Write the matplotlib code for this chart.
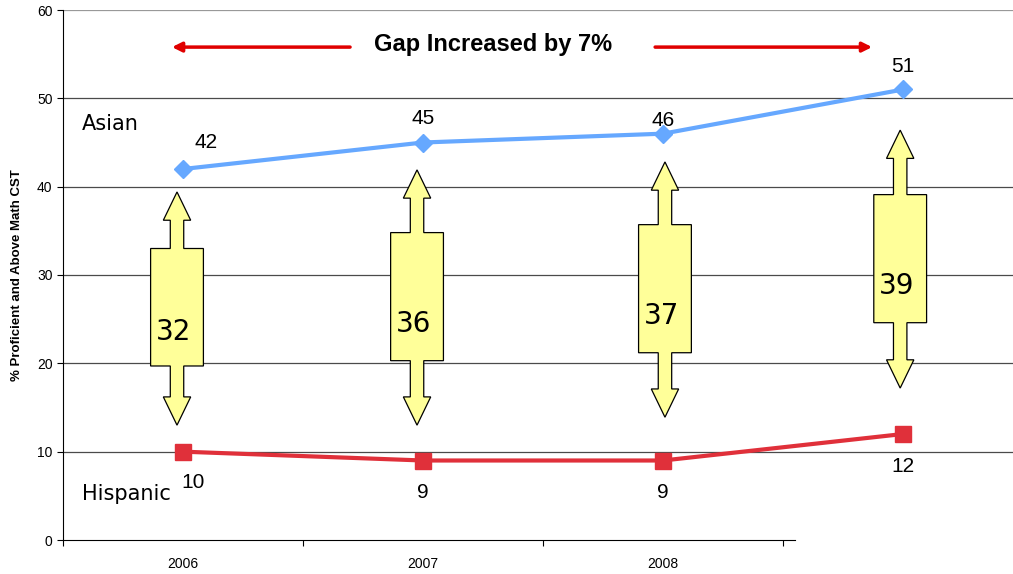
import matplotlib.pyplot as plt
from matplotlib.patches import Polygon

years = ["2006", "2007", "2008", ""]
asian = [42, 45, 46, 51]
hispanic = [10, 9, 9, 12]
gaps = [32, 36, 37, 39]
yticks = [0, 10, 20, 30, 40, 50, 60]

# double arrow extents (tip top, box top, box bottom, tip bottom) in data units
arrow_top = [39.4, 41.9, 42.8, 46.4]
box_top = [33.0, 34.8, 35.7, 39.1]
box_bot = [19.7, 20.3, 21.2, 24.6]
arrow_bot = [13.0, 13.0, 13.9, 17.2]
arrow_dx = [-0.025, -0.025, 0.008, -0.012]

fig = plt.figure(figsize=(10.13, 5.74), dpi=100)
ax = fig.add_axes([63 / 1013, 34 / 574, 1 - 63 / 1013, 530 / 574])

x = list(range(len(years)))
ax.set_xlim(-0.5, 3.458)
ax.set_ylim(0, 60)

for y in yticks[1:]:
    col = "#999999" if y == 60 else "#4a4a4a"
    ax.axhline(y, color=col, lw=0.9, zorder=0)

ax.plot(x, asian, color="#66a8ff", lw=3, marker="D", ms=9, zorder=3)
ax.plot(x, hispanic, color="#e0303a", lw=3, marker="s", ms=11, zorder=3)

asian_off = [(23, 27), (0, 24), (0, 13), (0, 23)]
for i, v in enumerate(asian):
    ax.annotate(str(v), (x[i], v), xytext=asian_off[i], textcoords="offset pixels",
                ha="center", va="center", fontsize=15, family="Liberation Sans")
hisp_off = [(10, -31), (0, -32), (0, -32), (0, -32)]
for i, v in enumerate(hispanic):
    ax.annotate(str(v), (x[i], v), xytext=hisp_off[i], textcoords="offset pixels",
                ha="center", va="center", fontsize=15, family="Liberation Sans")

# yellow gap arrows
bw, sw, hw, hh = 0.11, 0.028, 0.057, 3.2
for i, g in enumerate(gaps):
    c = x[i] + arrow_dx[i]
    t, bt, bb, b = arrow_top[i], box_top[i], box_bot[i], arrow_bot[i]
    pts = [(c, t), (c + hw, t - hh), (c + sw, t - hh), (c + sw, bt), (c + bw, bt),
           (c + bw, bb), (c + sw, bb), (c + sw, b + hh), (c + hw, b + hh), (c, b),
           (c - hw, b + hh), (c - sw, b + hh), (c - sw, bb), (c - bw, bb),
           (c - bw, bt), (c - sw, bt), (c - sw, t - hh), (c - hw, t - hh)]
    ax.add_patch(Polygon(pts, closed=True, facecolor="#ffff99", edgecolor="black",
                         lw=0.9, zorder=2))
    ax.text(c - 0.015, bb + (bt - bb) * 0.29, str(g), ha="center", va="center",
            fontsize=20, family="DejaVu Sans", zorder=4)

# gap title with arrows
ax.annotate("", xy=(-0.046, 55.8), xytext=(0.696, 55.8),
            arrowprops=dict(arrowstyle="-|>", color="#e00000", lw=2.5,
                            mutation_scale=14, shrinkA=0, shrinkB=0))
ax.annotate("", xy=(2.871, 55.8), xytext=(1.967, 55.8),
            arrowprops=dict(arrowstyle="-|>", color="#e00000", lw=2.5,
                            mutation_scale=14, shrinkA=0, shrinkB=0))
ax.text(1.29, 56.1, "Gap Increased by 7%", ha="center", va="center",
        fontsize=17, fontweight="bold", family="Liberation Sans")

ax.text(-0.42, 47.1, "Asian", ha="left", va="center", fontsize=15, family="DejaVu Sans")
ax.text(-0.42, 5.2, "Hispanic", ha="left", va="center", fontsize=15, family="DejaVu Sans")

ax.spines["top"].set_visible(False)
ax.spines["right"].set_visible(False)
ax.spines["bottom"].set_bounds(-0.5, 2.55)
ax.set_xticks([-0.5, 0.5, 1.5, 2.5])
ax.set_xticklabels([])
ax.set_xticks(x[:3], minor=True)
ax.set_xticklabels(years[:3], minor=True, fontsize=10, family="Liberation Sans")
ax.tick_params(axis="x", which="minor", length=0, pad=12)
ax.tick_params(axis="x", which="major", length=4, direction="out")
ax.set_yticks(yticks)
ax.set_yticklabels([str(v) for v in yticks], fontsize=10, family="Liberation Sans")
ax.tick_params(axis="y", length=4, direction="out")
ax.set_ylabel("% Proficient and Above Math CST", fontsize=9.5, fontweight="bold",
              family="Liberation Sans", labelpad=10)

fig.savefig("out.png", dpi=100)
